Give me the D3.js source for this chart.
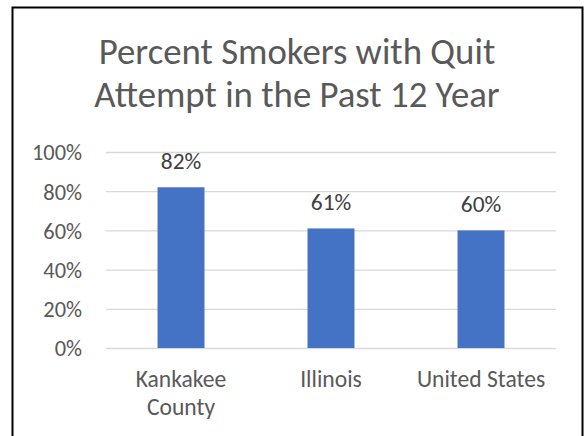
<!DOCTYPE html>
<html>
<head>
<meta charset="utf-8">
<script src="https://cdn.jsdelivr.net/npm/d3@7"></script>
<style>
  html, body { margin: 0; padding: 0; background: #fff; }
  svg { display: block; }
  text { font-family: Carlito, Calibri, Lato, "Open Sans", sans-serif; }
</style>
</head>
<body>
<svg id="chart" width="587" height="436"></svg>
<script>
const titleLines = ["Percent Smokers with Quit", "Attempt in the Past 12 Year"];
const categories = ["Kankakee County", "Illinois", "United States"];
const values = [0.82, 0.61, 0.60];
const yTicks = [0, 0.2, 0.4, 0.6, 0.8, 1.0];

const svg = d3.select("#chart");
const W = 587, H = 436;
const plot = { left: 106, right: 556, top: 152, bottom: 348 };
const FONT = "Carlito, Calibri, Lato, 'Open Sans', sans-serif";

svg.append("rect").attr("width", W).attr("height", H).attr("fill", "#fff");
// frame
svg.append("rect")
  .attr("x", 12.5).attr("y", 7.5)
  .attr("width", 570).attr("height", 440)
  .attr("fill", "none").attr("stroke", "#000").attr("stroke-width", 2);

// title
const title = svg.append("text")
  .attr("text-anchor", "middle")
  .attr("fill", "#595959")
  .style("font-size", "36.8px");
titleLines.forEach((t, i) => {
  title.append("tspan").attr("x", 297).attr("y", 64 + i * 43).text(t);
});

const x = d3.scaleBand().domain(categories).range([plot.left, plot.right])
  .paddingInner(0.687).paddingOuter(0.3435);
const y = d3.scaleLinear().domain([0, 1]).range([plot.bottom, plot.top]);

// y axis with gridlines
const yAxis = svg.append("g")
  .attr("transform", `translate(${plot.left},0)`)
  .call(d3.axisLeft(y).tickValues(yTicks).tickFormat(d3.format(".0%"))
    .tickSize(-(plot.right - plot.left)).tickPadding(24));
yAxis.select(".domain").remove();
yAxis.selectAll(".tick line").attr("stroke", "#d9d9d9").attr("stroke-width", 1.3);
yAxis.selectAll(".tick text")
  .attr("fill", "#595959")
  .style("font-size", "22.4px")
  .style("font-family", FONT)
  .attr("dy", "0.35em");

// bars
svg.append("g").selectAll("rect")
  .data(categories)
  .join("rect")
  .attr("x", d => x(d))
  .attr("y", (d, i) => y(values[i]))
  .attr("width", x.bandwidth())
  .attr("height", (d, i) => y(0) - y(values[i]))
  .attr("fill", "#4472C4");

// data labels
svg.append("g").selectAll("text")
  .data(categories)
  .join("text")
  .attr("x", d => x(d) + x.bandwidth() / 2)
  .attr("y", (d, i) => y(values[i]) - 18)
  .attr("text-anchor", "middle")
  .attr("fill", "#404040")
  .style("font-size", "23.4px")
  .text((d, i) => d3.format(".0%")(values[i]));

// x axis labels
const xAxis = svg.append("g")
  .attr("transform", `translate(0,${plot.bottom})`)
  .call(d3.axisBottom(x).tickSize(0).tickPadding(0));
xAxis.select(".domain").remove();
xAxis.selectAll(".tick text").each(function(d) {
  const t = d3.select(this);
  t.text(null).attr("y", 0).attr("dy", null)
    .attr("fill", "#595959")
    .style("font-size", "23.6px")
    .style("font-family", FONT);
  const probe = t.append("tspan").text(d);
  const wide = probe.node().getComputedTextLength() > x.step() * 0.95;
  probe.remove();
  const lines = wide ? d.split(" ") : [d];
  lines.forEach((ln, i) => {
    t.append("tspan").attr("x", 0).attr("y", 39 + i * 28).text(ln);
  });
});
</script>
</body>
</html>
